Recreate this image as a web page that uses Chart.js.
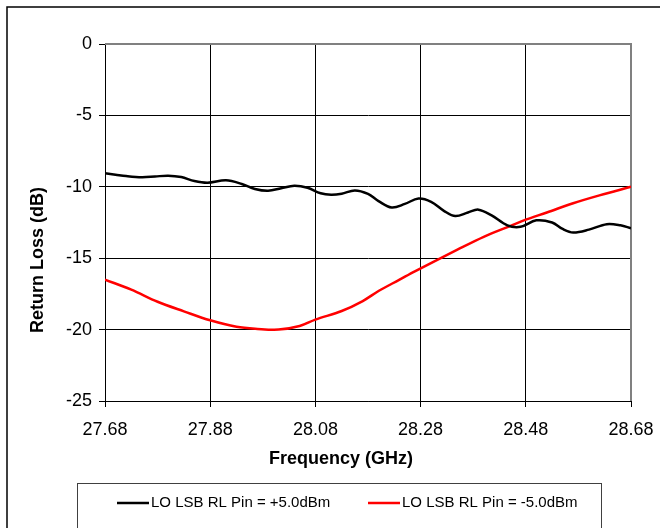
<!DOCTYPE html>
<html>
<head>
<meta charset="utf-8">
<script src="https://cdn.jsdelivr.net/npm/chart.js@4.4.1/dist/chart.umd.min.js"></script>
<style>
  html, body { margin: 0; padding: 0; background: #fff; overflow: hidden; }
  #wrap { width: 660px; height: 528px; position: relative; }
</style>
</head>
<body>
<div id="wrap"><canvas id="c" width="660" height="528"></canvas></div>
<script>
// LO LSB return loss, Pin = +5.0 dBm
const freqHigh = [27.68, 27.70, 27.72, 27.75, 27.775, 27.80, 27.825, 27.85, 27.875, 27.91,
                  27.94, 27.965, 27.99, 28.015, 28.04, 28.065, 28.09, 28.11, 28.13, 28.155,
                  28.18, 28.20, 28.225, 28.25, 28.276, 28.30, 28.325, 28.346, 28.37, 28.39,
                  28.415, 28.445, 28.47, 28.50, 28.53, 28.55, 28.57, 28.60, 28.634, 28.66, 28.68];
const lossHigh = [-9.05, -9.15, -9.25, -9.33, -9.28, -9.22, -9.32, -9.6, -9.72, -9.55,
                  -9.8, -10.15, -10.28, -10.1, -9.93, -10.07, -10.45, -10.55, -10.48, -10.26,
                  -10.5, -11.0, -11.45, -11.2, -10.82, -11.05, -11.7, -12.05, -11.8, -11.6,
                  -12.0, -12.7, -12.8, -12.35, -12.5, -12.95, -13.2, -13.0, -12.62, -12.7, -12.9];

// LO LSB return loss, Pin = -5.0 dBm
const freqLow = [27.68, 27.73, 27.78, 27.83, 27.88, 27.93, 27.97, 28.01, 28.05, 28.08,
                 28.13, 28.17, 28.20, 28.24, 28.27, 28.35, 28.40, 28.45, 28.48, 28.52,
                 28.57, 28.62, 28.68];
const lossLow = [-16.5, -17.2, -18.05, -18.72, -19.35, -19.8, -19.95, -20.0, -19.75, -19.3,
                 -18.7, -18.0, -17.3, -16.5, -15.9, -14.4, -13.5, -12.75, -12.3, -11.8,
                 -11.15, -10.6, -10.0];

const seriesNames = ['LO LSB RL Pin = +5.0dBm', 'LO LSB RL Pin = -5.0dBm'];
const seriesColors = ['#000000', '#ff0000'];
const xTicks = [27.68, 27.88, 28.08, 28.28, 28.48, 28.68];
const yTicks = [0, -5, -10, -15, -20, -25];
const xTitle = 'Frequency (GHz)';
const yTitle = 'Return Loss (dB)';

const toPoints = (xs, ys) => xs.map((x, i) => ({ x: x, y: ys[i] }));

const FONT = '"Liberation Sans", Arial, sans-serif';

// Outer chart frame, plot border, axis titles and boxed legend
const decor = {
  id: 'decor',
  beforeDraw(chart) {
    const ctx = chart.ctx;
    ctx.save();
    ctx.fillStyle = '#fff';
    ctx.fillRect(0, 0, chart.width, chart.height);
    ctx.strokeStyle = '#000';
    ctx.lineWidth = 1.5;
    ctx.strokeRect(7, 7, 720, 600);
    ctx.restore();
  },
  beforeDatasetsDraw(chart) {
    const { ctx, chartArea: a } = chart;
    ctx.save();
    ctx.strokeStyle = '#808080';
    ctx.lineWidth = 2;
    ctx.beginPath();
    ctx.moveTo(a.left, a.top);
    ctx.lineTo(a.right, a.top);
    ctx.lineTo(a.right, a.bottom);
    ctx.stroke();
    ctx.restore();
  },
  afterDraw(chart) {
    const ctx = chart.ctx;
    ctx.save();
    ctx.fillStyle = '#000';
    ctx.font = 'bold 18px ' + FONT;
    ctx.textAlign = 'center';
    ctx.textBaseline = 'middle';
    ctx.fillText(xTitle, 341, 459);
    ctx.translate(38, 260);
    ctx.rotate(-Math.PI / 2);
    ctx.fillText(yTitle, 0, 0);
    ctx.restore();

    // legend
    ctx.save();
    ctx.strokeStyle = '#404040';
    ctx.lineWidth = 1;
    ctx.strokeRect(77.5, 483.5, 524, 80);
    const items = [{ x: 117 }, { x: 368 }];
    ctx.font = '15px ' + FONT;
    ctx.textBaseline = 'middle';
    ctx.textAlign = 'left';
    chart.data.datasets.forEach((ds, i) => {
      const x0 = items[i].x, y0 = 503;
      ctx.strokeStyle = ds.borderColor;
      ctx.lineWidth = 2.5;
      ctx.beginPath();
      ctx.moveTo(x0, y0);
      ctx.lineTo(x0 + 32, y0);
      ctx.stroke();
      ctx.fillStyle = '#000';
      ctx.fillText(ds.label, x0 + 34, y0);
    });
    ctx.restore();
  }
};

new Chart(document.getElementById('c'), {
  type: 'line',
  data: {
    datasets: [
      { label: seriesNames[0], data: toPoints(freqHigh, lossHigh), borderColor: seriesColors[0],
        borderWidth: 2.5, pointRadius: 0, tension: 0.35, fill: false },
      { label: seriesNames[1], data: toPoints(freqLow, lossLow), borderColor: seriesColors[1],
        borderWidth: 2.5, pointRadius: 0, tension: 0.35, fill: false }
    ]
  },
  options: {
    responsive: false,
    animation: false,
    events: [],
    layout: { padding: { left: 8, top: 44, right: 29, bottom: 87 } },
    plugins: { legend: { display: false }, tooltip: { enabled: false } },
    scales: {
      x: {
        type: 'linear',
        min: 27.68,
        max: 28.68,
        afterBuildTicks: (s) => { s.ticks = xTicks.map(v => ({ value: v })); },
        afterFit: (s) => { s.height = 40; s.paddingLeft = 20; s.paddingRight = 20; },
        ticks: {
          color: '#000',
          font: { family: FONT, size: 18 },
          padding: 12,
          maxRotation: 0,
          callback: (v) => Number(v).toFixed(2)
        },
        grid: { color: '#000', lineWidth: 1, tickLength: 6, drawTicks: true },
        border: { color: '#000', width: 1 }
      },
      y: {
        type: 'linear',
        min: -25,
        max: 0,
        afterBuildTicks: (s) => { s.ticks = yTicks.map(v => ({ value: v })); },
        afterFit: (s) => { s.width = 97; },
        ticks: {
          color: '#000',
          font: { family: FONT, size: 18 },
          padding: 7,
          callback: (v) => String(v)
        },
        grid: { color: '#000', lineWidth: 1, tickLength: 6, drawTicks: true },
        border: { color: '#000', width: 1 }
      }
    }
  },
  plugins: [decor]
});
</script>
</body>
</html>
